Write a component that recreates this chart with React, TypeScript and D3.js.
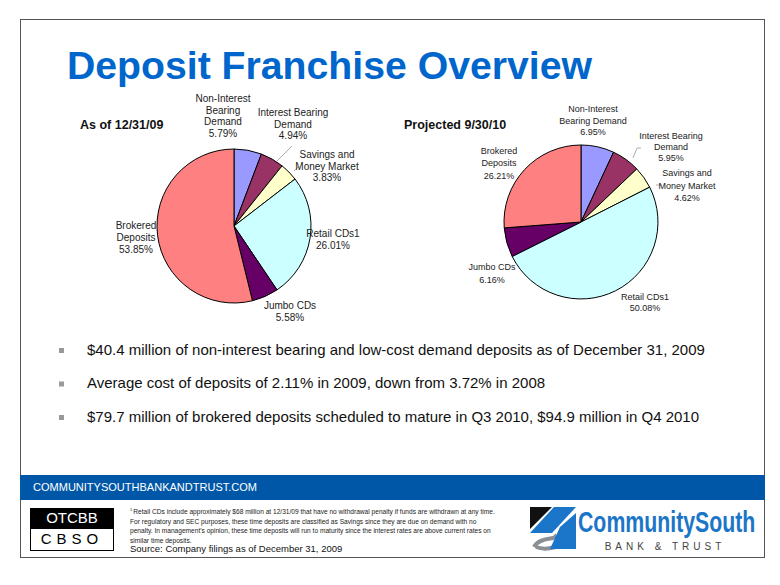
import React from 'react';
import * as d3 from 'd3';

// slice order, clockwise from 12 o'clock
const categories = [
  'Non-Interest Bearing Demand',
  'Interest Bearing Demand',
  'Savings and Money Market',
  'Retail CDs1',
  'Jumbo CDs',
  'Brokered Deposits',
];
const values2009 = [5.79, 4.94, 3.83, 26.01, 5.58, 53.85];
const values2010 = [6.95, 5.95, 4.62, 50.08, 6.16, 26.21];
const sliceColors = ['#9999FF', '#993366', '#FFFFCC', '#CCFFFF', '#660066', '#FF8080'];

const bullets = [
  '$40.4 million of non-interest bearing and low-cost demand deposits as of December 31, 2009',
  'Average cost of deposits of 2.11% in 2009, down from 3.72% in 2008',
  '$79.7 million of brokered deposits scheduled to mature in Q3 2010, $94.9 million in Q4 2010',
];

const footnote = [
  'Retail CDs include approximately $68 million at 12/31/09 that have no withdrawal penalty if funds are withdrawn at any time.',
  'For regulatory and SEC purposes, these time deposits are classified as Savings since they are due on demand with no',
  "penalty. In management's opinion, these time deposits will run to maturity since the interest rates are above current rates on",
  'similar time deposits.',
];

const BLUE = '#0066CC';

// label layout per pie: name lines + where the block sits
const labels2009 = [
  {x: 223, y: 99, lines: ['Non-Interest', 'Bearing', 'Demand'], dy: 11.5},
  {x: 293, y: 113, lines: ['Interest Bearing', 'Demand'], dy: 11.5},
  {x: 327, y: 155, lines: ['Savings and', 'Money Market'], dy: 11.5},
  {x: 333, y: 234, lines: ['Retail CDs1'], dy: 12},
  {x: 290, y: 306, lines: ['Jumbo CDs'], dy: 12},
  {x: 136, y: 226, lines: ['Brokered', 'Deposits'], dy: 12},
];
const labels2010 = [
  {x: 593, y: 110, lines: ['Non-Interest', 'Bearing Demand'], dy: 11.5},
  {x: 671, y: 137, lines: ['Interest Bearing', 'Demand'], dy: 10.8},
  {x: 687, y: 174, lines: ['Savings and', 'Money Market'], dy: 12.5},
  {x: 645, y: 298, lines: ['Retail CDs1'], dy: 10.5},
  {x: 492, y: 268, lines: ['Jumbo CDs'], dy: 13},
  {x: 499, y: 152, lines: ['Brokered', 'Deposits'], dy: 12.3},
];

function Pie({cx, cy, r, values, labels, fontSize, leaders}) {
  const pie = d3.pie<number>().sort(null).value(d => d);
  const arc = d3.arc<d3.PieArcDatum<number>>().innerRadius(0).outerRadius(r);
  const arcs = pie(values);
  return (
    <g>
      <g transform={`translate(${cx},${cy})`}>
        {arcs.map((a, i) => (
          <path key={i} d={arc(a) || ''} fill={sliceColors[i]} stroke="#000" strokeWidth={1}/>
        ))}
      </g>
      {leaders.map((pts, i) => (
        <polyline key={i} points={pts.map(p => p.join(',')).join(' ')} fill="none" stroke="#999" strokeWidth={0.8}/>
      ))}
      {labels.map((l, i) => {
        const lines = [...l.lines, d3.format('.2f')(values[i]) + '%'];
        return (
          <text key={i} x={l.x} y={l.y} textAnchor="middle" dominantBaseline="middle"
                fontSize={fontSize} fill="#222">
            {lines.map((t, j) => (
              <tspan key={j} x={l.x} y={l.y + j * l.dy}>{t}</tspan>
            ))}
          </text>
        );
      })}
    </g>
  );
}

function Logo({x, y}) {
  return (
    <g transform={`translate(${x},${y})`}>
      <polygon points="0,0 22,0 0,22" fill="#111"/>
      <polygon points="24,0 46,0 22,26 0,26" fill="#1B75C9"/>
      <path d="M4,40 C10,28 30,34 24,28 M6,40 C16,44 34,40 40,30" fill="none" stroke="#8A8F96" strokeWidth={4}/>
      <polygon points="30,20 46,6 46,42 20,42" fill="#1B75C9"/>
      <text transform="translate(48,25) scale(0.71,1)" fontFamily="Liberation Sans, Arial, sans-serif"
            fontWeight="bold" fontSize={30} fill="#1B75C9">CommunitySouth</text>
      <text x={135} y={43} textAnchor="middle" fontFamily="Liberation Sans, Arial, sans-serif"
            fontSize={10} fill="#444" letterSpacing={4}>BANK &amp; TRUST</text>
    </g>
  );
}

export default function App() {
  const W = 780, H = 585;
  return (
    <svg width={W} height={H} style={{position: 'absolute', left: 0, top: 0, background: '#fff'}}
         fontFamily="Liberation Sans, Arial, sans-serif">
      <rect x={0} y={0} width={W} height={H} fill="#fff"/>
      <rect x={20.5} y={19.5} width={744} height={538} fill="#fff" stroke="#555" strokeWidth={1}/>

      <text x={67} y={79} fontSize={39} fontWeight="bold" fill={BLUE}
            textLength={525} lengthAdjust="spacingAndGlyphs">Deposit Franchise Overview</text>

      <text x={80} y={129} fontSize={12.5} fontWeight="bold" fill="#111">As of 12/31/09</text>
      <text x={404} y={129} fontSize={12.5} fontWeight="bold" fill="#111">Projected 9/30/10</text>

      <Pie cx={234} cy={226} r={77} values={values2009} labels={labels2009} fontSize={10}
           leaders={[[[292, 146], [277, 161]], [[298, 167], [294, 171]]]}/>
      <Pie cx={581} cy={222} r={77} values={values2010} labels={labels2010} fontSize={9}
           leaders={[[[641, 148], [637, 148], [633, 158]], [[662, 185], [656, 185]]]}/>

      {bullets.map((b, i) => (
        <g key={i}>
          <rect x={59} y={348 + i * 33.5} width={5} height={5} fill="#999"/>
          <text x={87} y={351 + i * 33.5} dominantBaseline="middle" fontSize={15} fill="#111">{b}</text>
        </g>
      ))}

      <rect x={20} y={475} width={745} height={25} fill="#0057A8"/>
      <text x={33} y={488} dominantBaseline="middle" fontSize={11.5} fill="#fff"
            textLength={224} lengthAdjust="spacingAndGlyphs">COMMUNITYSOUTHBANKANDTRUST.COM</text>

      <rect x={30} y={508} width={84} height={21} fill="#000"/>
      <rect x={30.5} y={508.5} width={83} height={42} fill="none" stroke="#000" strokeWidth={1}/>
      <text x={72} y={519} textAnchor="middle" dominantBaseline="middle" fontSize={15} fill="#fff">OTCBB</text>
      <text x={72} y={540} textAnchor="middle" dominantBaseline="middle" fontSize={15} fill="#000"
            letterSpacing={5}>CBSO</text>

      {footnote.map((t, i) => (
        <text key={i} x={130} y={512 + i * 9.7} dominantBaseline="middle" fontSize={6.6} fill="#222">
          {i === 0 ? <tspan fontSize={4} dy={-2}>1 </tspan> : null}
          <tspan dy={i === 0 ? 2 : 0}>{t}</tspan>
        </text>
      ))}
      <text x={130} y={549} dominantBaseline="middle" fontSize={9.5} fill="#111">Source: Company filings as of December 31, 2009</text>

      <Logo x={530} y={507}/>
    </svg>
  );
}
